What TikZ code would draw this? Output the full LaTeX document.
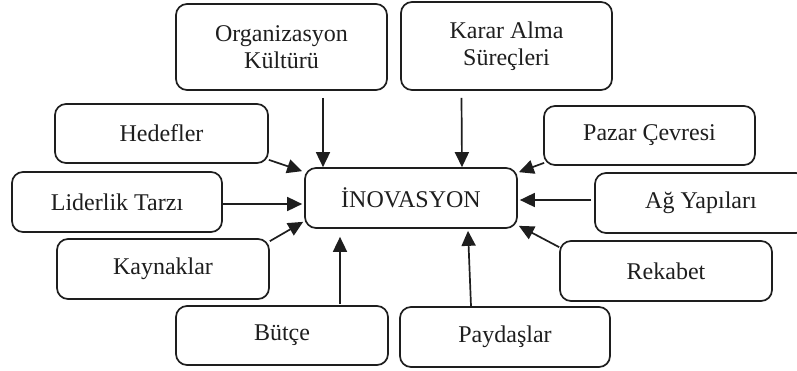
\documentclass[tikz,border=0pt]{standalone}
\usepackage{fontspec}
\setmainfont{Liberation Serif}
\usetikzlibrary{arrows.meta}
\definecolor{ink}{HTML}{1E1E1E}
\tikzset{
  box/.style={draw=ink, line width=1.7pt, rounded corners=11pt, inner sep=0pt,
    align=center, text=ink, font=\fontsize{24}{26.5}\selectfont},
  arr/.style={draw=ink, line width=1.7pt, -{Triangle[length=15pt,width=14pt]}}
}
\begin{document}
\begin{tikzpicture}[x=1pt,y=-1pt]
\useasboundingbox (0,0) rectangle (797,370);
\clip (0,0) rectangle (797,370);
\fill[white] (0,0) rectangle (797,370);
\node[box, minimum width=211pt, minimum height=86pt] (org) at (281.5,47) {Organizasyon\\Kültürü};
\node[box, minimum width=211pt, minimum height=88pt] (karar) at (506.5,46) {Karar Alma\\Süreçleri};
\node[box, minimum width=213pt, minimum height=59pt] (hed) at (161.5,133.5) {Hedefler};
\node[box, minimum width=211pt, minimum height=59pt] (pazar) at (649.5,135.5) {Pazar Çevresi};
\node[box, minimum width=210pt, minimum height=60pt] (lid) at (117,202) {Liderlik Tarzı};
\node[box, minimum width=212pt, minimum height=60pt] (inov) at (411,198) {İNOVASYON};
\node[box, minimum width=212pt, minimum height=60pt] (ag) at (701,203) {Ağ Yapıları};
\node[box, minimum width=212pt, minimum height=60pt] (kay) at (163,269) {Kaynaklar};
\node[box, minimum width=212pt, minimum height=60pt] (rek) at (666,271) {Rekabet};
\node[box, minimum width=212pt, minimum height=59pt] (but) at (282,335.5) {Bütçe};
\node[box, minimum width=210pt, minimum height=60pt] (pay) at (505,337) {Paydaşlar};

\draw[arr] ([xshift=41.5pt,yshift=-7pt]org.south) -- ([xshift=-88pt,yshift=0pt]inov.north);
\draw[arr] ([xshift=-45pt,yshift=-7pt]karar.south) -- ([xshift=51pt,yshift=0pt]inov.north);
\draw[arr] ([yshift=4pt]hed.south east) -- ([xshift=-2pt,yshift=-4pt]inov.north west);
\draw[arr] ([xshift=1pt,yshift=3pt]pazar.south west) -- ([xshift=1pt,yshift=-5pt]inov.north east);
\draw[arr] ([yshift=-2pt]lid.east) -- ([xshift=-2pt,yshift=-6pt]inov.west);
\draw[arr] ([xshift=-3pt,yshift=3pt]ag.west) -- ([xshift=2pt,yshift=-2pt]inov.east);
\draw[arr] ([yshift=-3pt]kay.north east) -- ([xshift=-1pt,yshift=7pt]inov.south west);
\draw[arr] ([yshift=-7pt]rek.north west) -- ([xshift=1pt,yshift=3pt]inov.south east);
\draw[arr] ([xshift=58pt,yshift=1pt]but.north) -- ([xshift=-71pt,yshift=-8pt]inov.south);
\draw[arr] ([xshift=-34pt,yshift=0pt]pay.north) -- ([xshift=57pt,yshift=-2pt]inov.south);
\end{tikzpicture}
\end{document}
